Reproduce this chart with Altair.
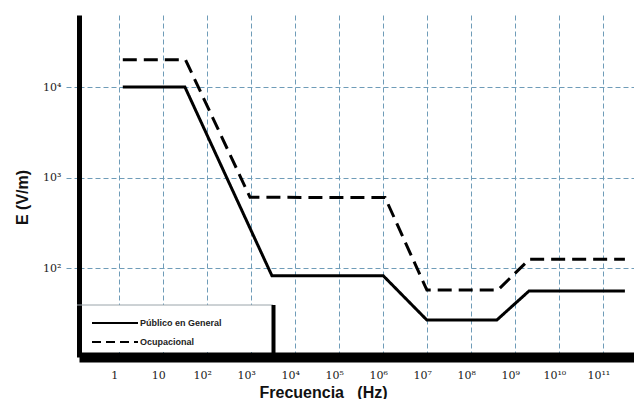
import altair as alt
import pandas as pd

# --- data ---
series_names = ["Público en General", "Ocupacional"]
public_f = [1.2, 31, 2950, 1.0e6, 9.8e6, 3.8e8, 2.05e9, 3.1e11]
public_e = [1.0e4, 1.0e4, 82, 82, 26.6, 26.6, 55.7, 55.7]
occup_f = [1.2, 32, 935, 1.1e6, 9.8e6, 4.0e8, 2.1e9, 3.1e11]
occup_e = [2.0e4, 2.0e4, 605, 600, 57, 57, 125, 125]

x_ticks = [10 ** k for k in range(0, 12)]
x_tick_labels = ["1", "10", "10²", "10³", "10⁴", "10⁵", "10⁶", "10⁷", "10⁸", "10⁹", "10¹⁰", "10¹¹"]
y_ticks = [100, 1000, 10000]
y_tick_labels = ["10²", "10³", "10⁴"]

rows = []
for i, (f, e) in enumerate(zip(public_f, public_e)):
    rows.append({"serie": series_names[0], "f": f, "E": e, "o": i})
for i, (f, e) in enumerate(zip(occup_f, occup_e)):
    rows.append({"serie": series_names[1], "f": f, "E": e, "o": i})
df = pd.DataFrame(rows)

W, H = 555, 342
grid_color = "#6f9cb8"

x_label_expr = "[" + ",".join(f"'{l}'" for l in x_tick_labels) + "][round(log(datum.value)/LN10)]"
y_label_expr = "[" + ",".join(f"'{l}'" for l in y_tick_labels) + "][round(log(datum.value)/LN10)-2]"

x_enc = alt.X(
    "f:Q",
    scale=alt.Scale(type="log", domain=[0.1213, 4.99e11], nice=False),
    axis=alt.Axis(
        values=x_ticks,
        labelExpr=x_label_expr,
        title="Frecuencia\u00a0\u00a0\u00a0(Hz)",
        titleFont="Liberation Sans",
        titleFontSize=16,
        titleFontWeight="bold",
        titleColor="#111111",
        titleX=244,
        titleY=40,
        titleAlign="center",
        titleBaseline="alphabetic",
        labelFont="DejaVu Serif",
        labelFontSize=11,
        labelColor="#222222",
        labelPadding=9,
        labelOffset=-5,
        labelFlush=False,
        labelOverlap=False,
        domainColor="black",
        domainWidth=10,
        ticks=True,
        tickSize=3,
        tickColor="#bbbbbb",
        grid=True,
        gridColor=grid_color,
        gridDash=[5, 3],
        gridWidth=1,
    ),
)
y_enc = alt.Y(
    "E:Q",
    scale=alt.Scale(type="log", domain=[10.39, 62500], nice=False),
    axis=alt.Axis(
        values=y_ticks,
        labelExpr=y_label_expr,
        title="E (V/m)",
        titleFont="Liberation Sans",
        titleFontSize=16,
        titleFontWeight="bold",
        titleColor="#111111",
        titleAngle=270,
        titleX=-57,
        titleY=182,
        titleAlign="center",
        titleBaseline="middle",
        labelFont="DejaVu Serif",
        labelFontSize=11,
        labelColor="#222222",
        labelPadding=2,
        domainColor="black",
        domainWidth=5,
        ticks=True,
        tickSize=16,
        tickDash=[5, 3],
        tickColor=grid_color,
        grid=True,
        gridColor=grid_color,
        gridDash=[5, 3],
        gridWidth=1,
    ),
)

lines = alt.Chart(df).mark_line(color="black", strokeWidth=3, strokeCap="butt").encode(
    x=x_enc,
    y=y_enc,
    detail="serie:N",
    order="o:Q",
    strokeDash=alt.StrokeDash(
        "serie:N",
        scale=alt.Scale(domain=series_names, range=[[1, 0], [14, 7]]),
        legend=None,
    ),
)

one = pd.DataFrame({"k": [0]})

box = alt.Chart(one).mark_rect(fill="white").encode(
    x=alt.value(3), x2=alt.value(193), y=alt.value(290), y2=alt.value(337)
)
box_top = alt.Chart(one).mark_rule(color="#9aa4aa", strokeWidth=1).encode(
    x=alt.value(-2), x2=alt.value(194), y=alt.value(290)
)
box_right = alt.Chart(one).mark_rule(color="black", strokeWidth=4).encode(
    x=alt.value(194.5), y=alt.value(290), y2=alt.value(342)
)

legend_layers = []
dashes = [[1, 0], [9, 5]]
for i, name in enumerate(series_names):
    yy = 308 + i * 19
    legend_layers.append(
        alt.Chart(one).mark_rule(color="black", strokeWidth=2, strokeDash=dashes[i]).encode(
            x=alt.value(13), x2=alt.value(59), y=alt.value(yy)
        )
    )
    legend_layers.append(
        alt.Chart(one).mark_text(
            align="left", baseline="middle", font="Liberation Sans",
            fontSize=9, fontWeight="bold", color="#222222"
        ).encode(x=alt.value(61), y=alt.value(yy), text=alt.value(name))
    )

chart = alt.layer(lines, box, box_top, box_right, *legend_layers).properties(
    width=W,
    height=H,
    autosize=alt.AutoSizeParams(type="none"),
    padding={"left": 71, "top": 7, "right": 0, "bottom": 42},
    background="white",
).configure_view(stroke=None)

chart.save("out.html", embed_options={"renderer": "svg", "actions": False})
